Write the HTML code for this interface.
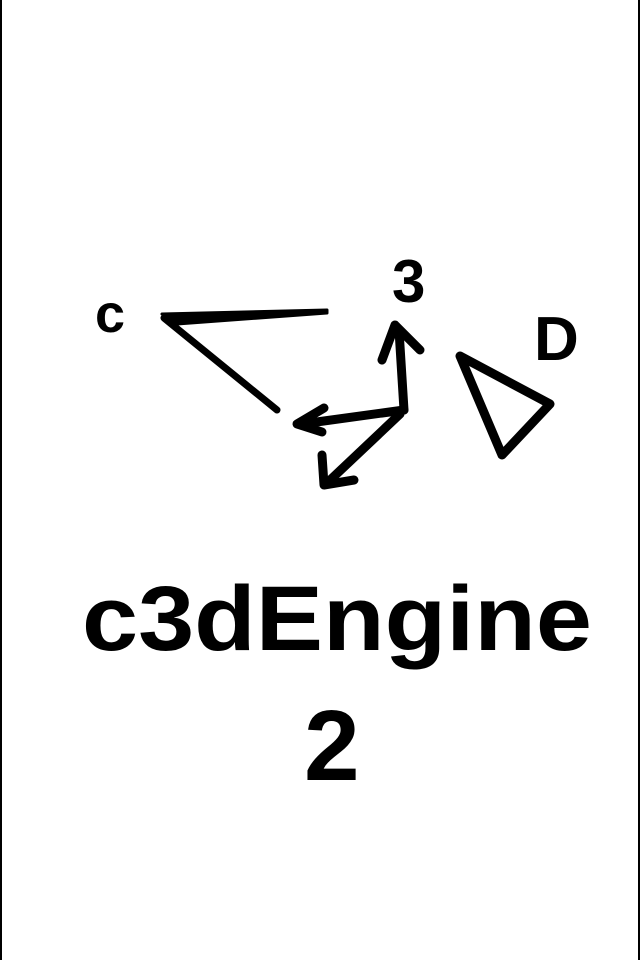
<!DOCTYPE html>
<html><head><meta charset="utf-8"><style>
html,body{margin:0;padding:0;background:#fff;}
.wrap{width:640px;height:960px;position:relative;overflow:hidden;box-sizing:border-box;border-left:2px solid #000;border-right:2px solid #000;}
svg{position:absolute;left:0;top:0;}
</style></head><body>
<div class="wrap">
<svg width="640" height="960" viewBox="0 0 640 960">
 <g fill="none" stroke="#000" stroke-linecap="round" stroke-linejoin="round">
  <g>
   <path d="M160 314 L325 310 L325 313 L175 324 Z" fill="#000" stroke-width="3"/>
   <path d="M162 318 L275 410" stroke-width="7"/>
  </g>
  <g stroke-width="9">
   <path d="M402 410 L397 330"/>
   <path d="M380 360 L393 325 L418 350"/>
   <path d="M402 410 L300 424"/>
   <path d="M322 408 L295 424 L320 432"/>
   <path d="M398 414 L325 483"/>
   <path d="M320 455 L322 485 L352 480"/>
  </g>
  <path d="M458 356 L548 404 L500 455 Z" stroke-width="9"/>
 </g>
 <g font-family="'Liberation Sans', sans-serif" font-weight="bold" fill="#000">
  <text x="93" y="332" font-size="54">c</text>
  <text x="390" y="302" font-size="60">3</text>
  <text x="532" y="360" font-size="62">D</text>
  <text x="80" y="650" font-size="92" textLength="510" lengthAdjust="spacingAndGlyphs">c3dEngine</text>
  <text x="302" y="780" font-size="100">2</text>
 </g>
</svg>
</div>
</body></html>
